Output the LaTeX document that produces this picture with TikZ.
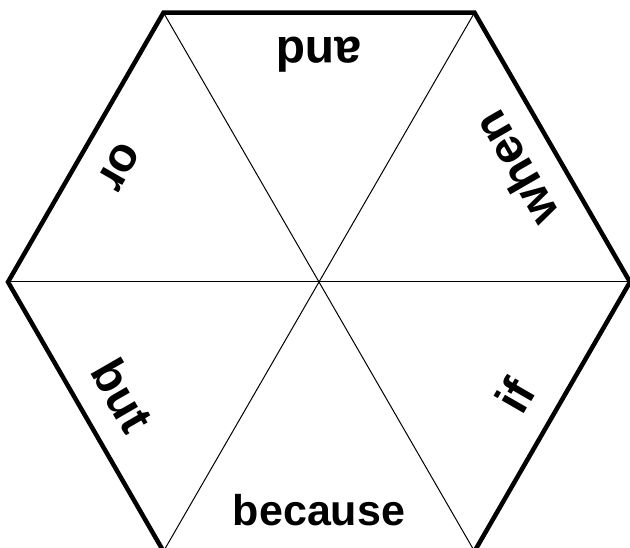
\documentclass[tikz,border=0pt]{standalone}
\usepackage{fontspec}
\setmainfont{Liberation Sans}
\begin{document}
\begin{tikzpicture}[x=1pt,y=1pt]
        \useasboundingbox (0,0) rectangle (630,548);
        \coordinate (c) at (319,266);
        \foreach \i in {0,1,...,5} {
          \path (c) ++(\i*60:311) coordinate (v\i);
          }
          \foreach[evaluate=\i as \j using int(\i+3)] \i in {0,1,2} {
            \draw[line width=1pt] (v\i) -- (v\j);
            }
          \draw[line width=4.5pt, line join=miter] (v0) -- (v1) -- (v2) -- (v3) -- (v4) -- (v5) -- cycle;
          \foreach \w/\a/\s in {because/270/43,if/330/48,when/30/48,and/90/48,or/150/48,but/210/48} {
            \path (c) ++(\a:244) node[anchor=base, rotate=\a+90, inner sep=0pt, font=\fontsize{\s}{\s}\selectfont\bfseries] (\w) {\w};
            }
          \end{tikzpicture}
\end{document}
